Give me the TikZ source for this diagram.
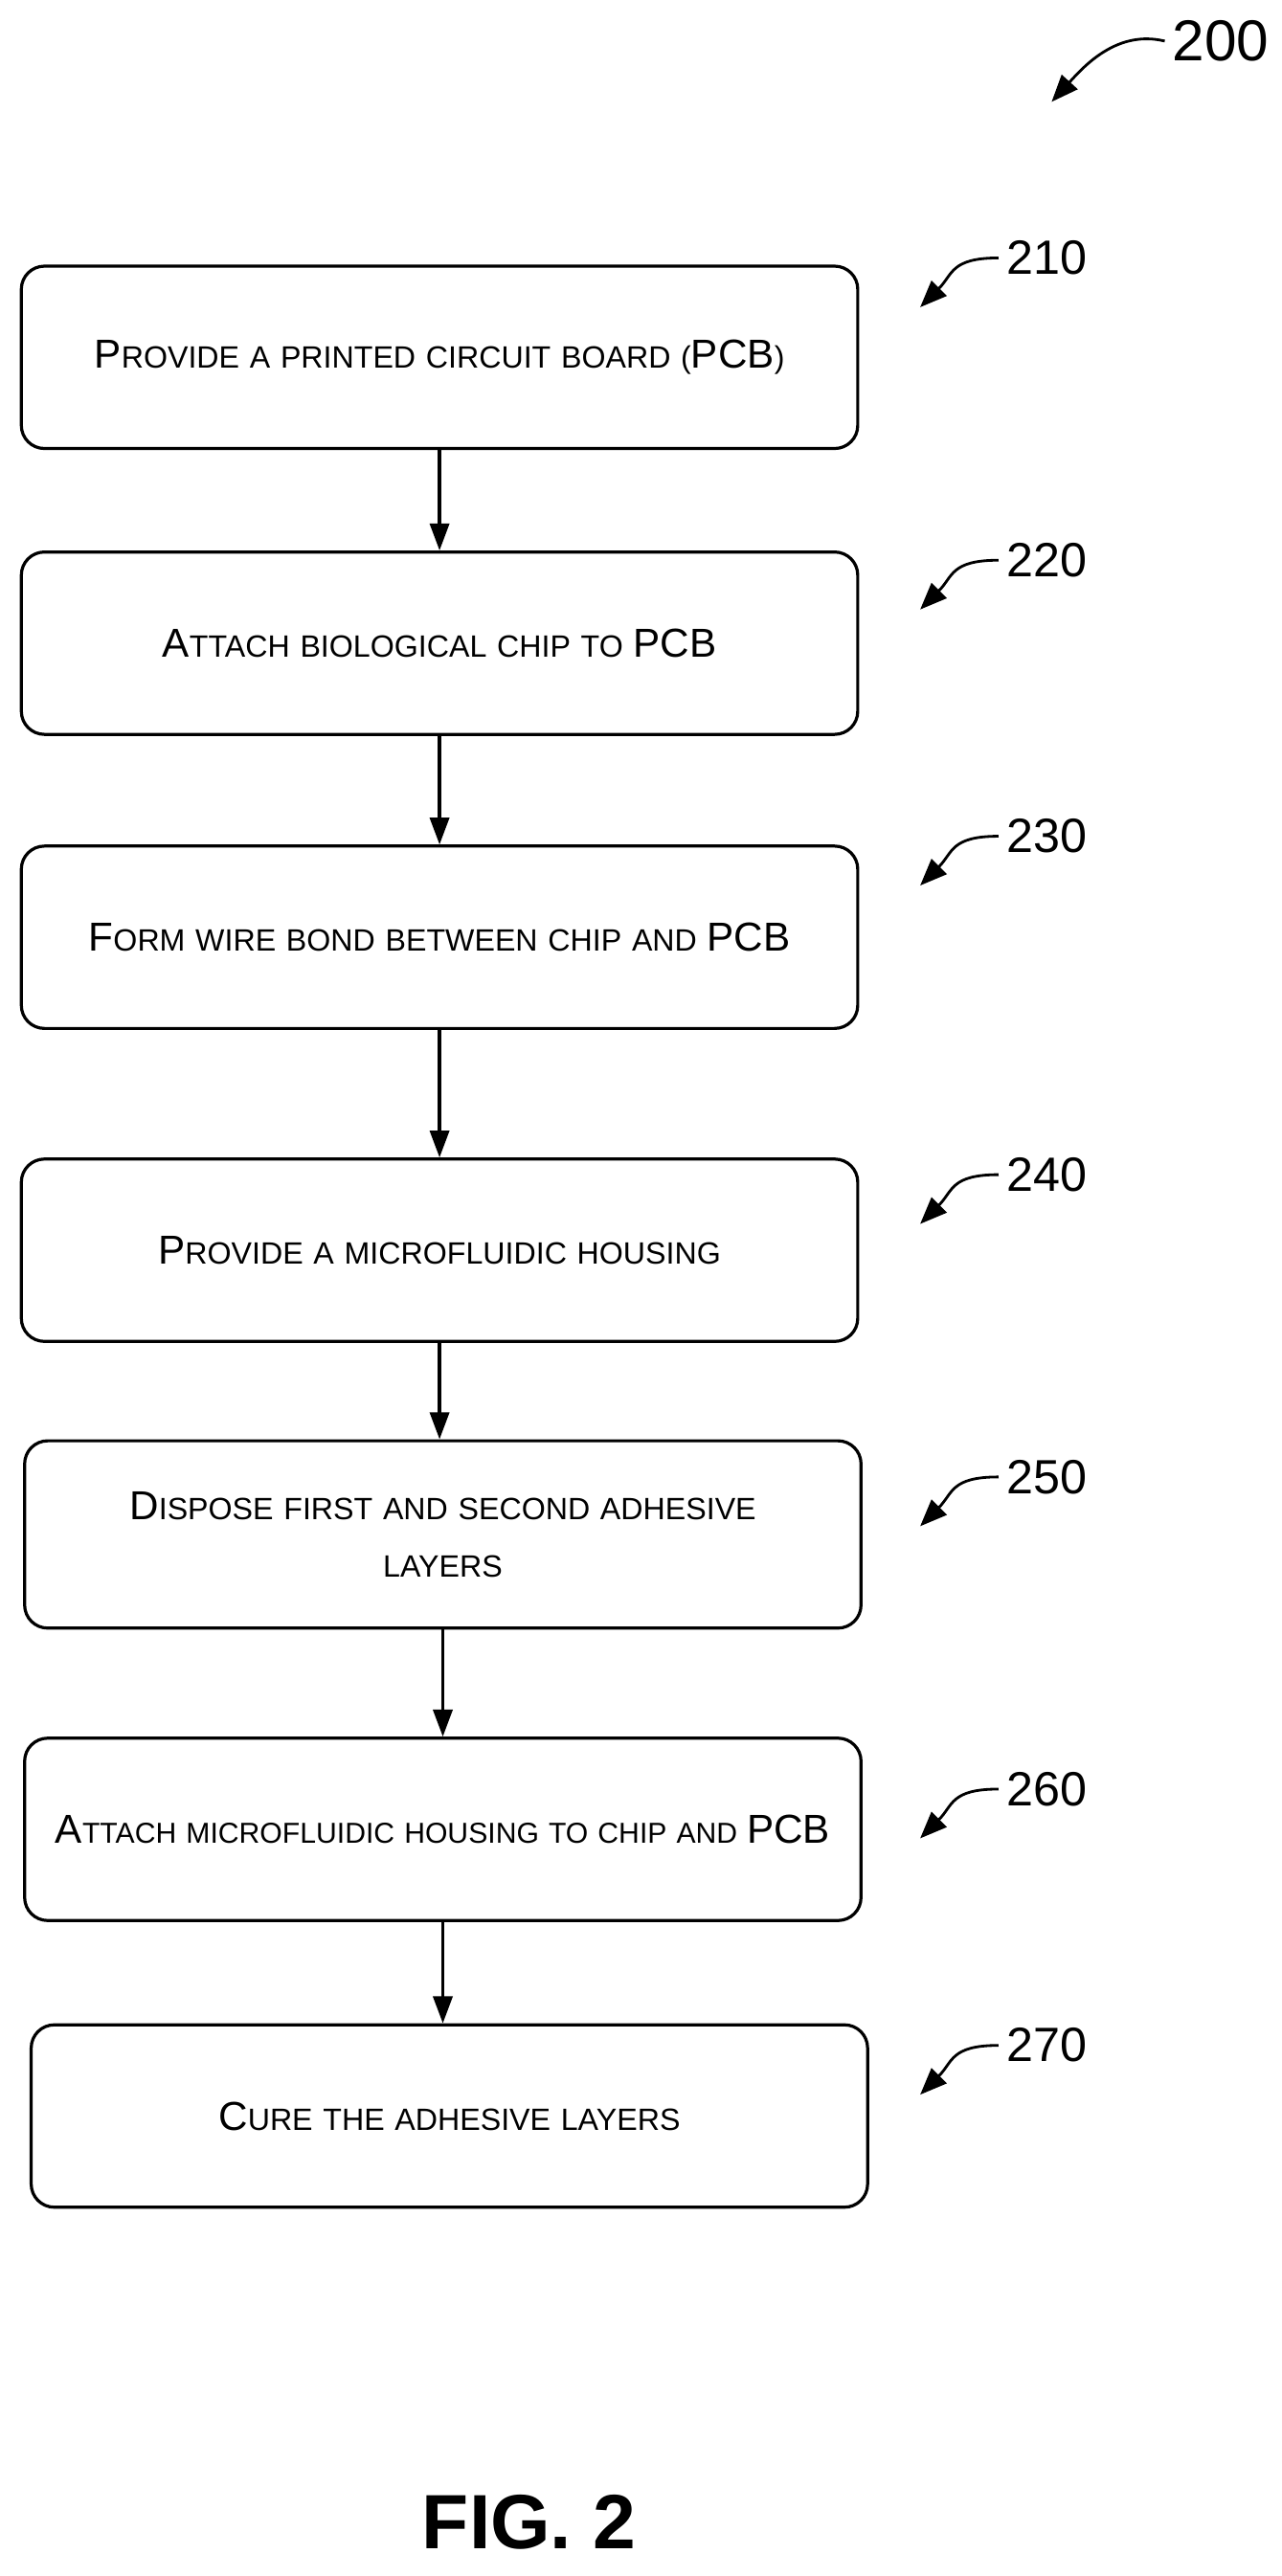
\documentclass[tikz,border=0pt]{standalone}
\usepackage{fontspec}
\setmainfont{Liberation Sans}
\usetikzlibrary{positioning,arrows.meta}
\tikzset{>=Triangle}
% Kleine hoofdletters nabootsen.
\newcommand{\Cap}[1]{{\fontsize{21}{26}\selectfont #1}}

\begin{document}
\begin{tikzpicture}[x=0.03cm,y=-0.03cm,line width=1.6pt]

% Stijlen.
\tikzset{
  stepbox/.style={rectangle, draw, rounded corners=12pt, text width=14.8cm, inner xsep=0.235cm,
    minimum height=3.33cm, align=center, font=\fontsize{16}{30}\selectfont},
  refnum/.style={font=\fontsize{25}{30}\selectfont},
  refarrow/.style={->, line width=1.4pt, >={Triangle[length=14pt,width=11pt]}},
  flow/.style={->, line width=1.6pt, >={Triangle[length=14pt,width=10pt]}}
}

\useasboundingbox (0,0) rectangle (780,1568);

% Stappen.
\node (s210) [stepbox] at (267.5,217.5) {\Cap{P}ROVIDE A PRINTED CIRCUIT BOARD (\Cap{PCB})};
\node (s220) [stepbox] at (267.5,391.5) {\Cap{A}TTACH BIOLOGICAL CHIP TO \Cap{PCB}};
\node (s230) [stepbox] at (267.5,570.5) {\Cap{F}ORM WIRE BOND BETWEEN CHIP AND \Cap{PCB}};
\node (s240) [stepbox] at (267.5,761) {\Cap{P}ROVIDE A MICROFLUIDIC HOUSING};
\node (s250) [stepbox, minimum height=3.42cm] at (269.5,934) {\Cap{D}ISPOSE FIRST AND SECOND ADHESIVE\\LAYERS};
\node (s260) [stepbox, font=\fontsize{15}{30}\selectfont] at (269.5,1113.5) {\mbox{\Cap{A}TTACH MICROFLUIDIC HOUSING TO CHIP AND \Cap{PCB}}};
\node (s270) [stepbox] at (273.5,1288) {\Cap{C}URE THE ADHESIVE LAYERS};

% Pijlen tussen de stappen.
\foreach \a/\b in {s210/s220, s220/s230, s230/s240, s240/s250, s250/s260, s260/s270}{
  \draw[flow] (\a.south) -- (\a.south |- \b.north);
}

% Verwijzingsnummers.
\node (r200) [refnum, font=\fontsize{30}{34}\selectfont] at (743,25) {200};
\coordinate (t200) at (640,62);
\draw[refarrow] (r200.west) .. controls (680,18) and (660,40) .. (t200);
\foreach \n/\y in {210/157, 220/341, 230/509, 240/715, 250/899, 260/1089, 270/1245}{
  \node (r\n) [refnum] at (637,\y) {\n};
  \coordinate (t\n) at (560,\y+30);
  \draw[refarrow] (r\n.west) .. controls ([xshift=-25]r\n.west) and (580,\y+10) .. (t\n);
}

% Figuurtitel.
\node (fig) [font=\fontsize{40}{44}\selectfont\bfseries] at (322,1535) {FIG. 2};
\end{tikzpicture}
\end{document}
